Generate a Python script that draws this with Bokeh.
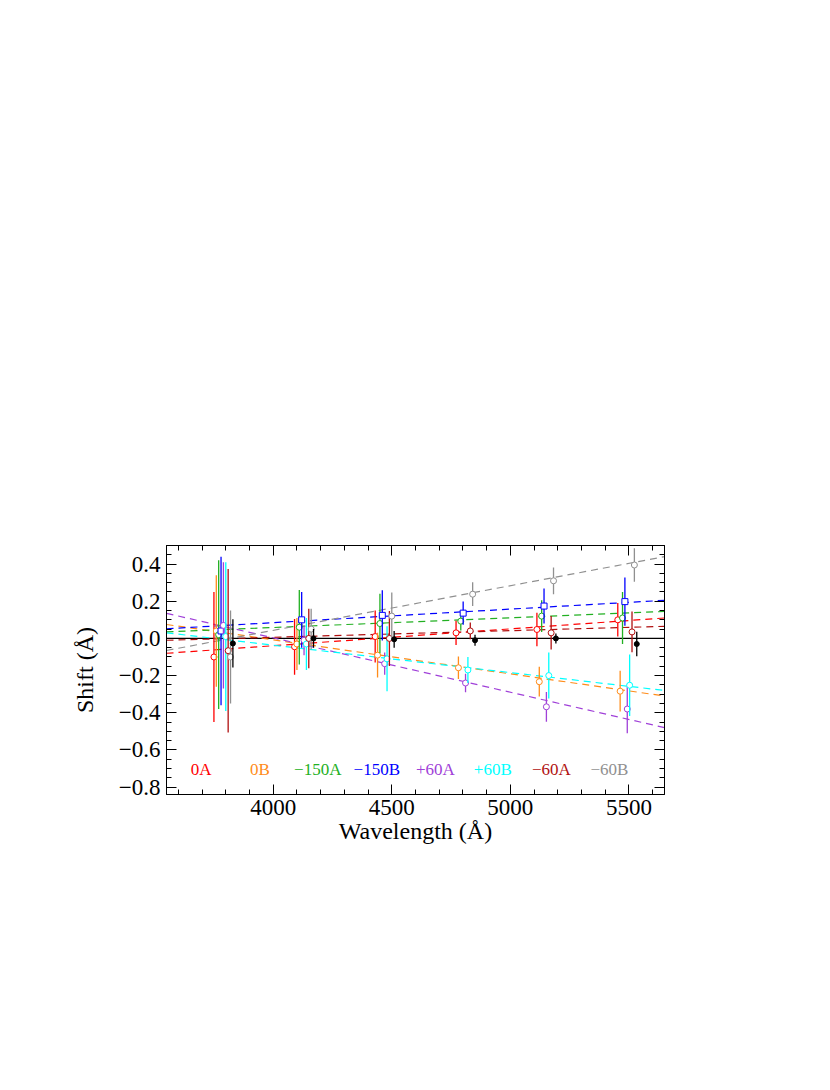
import numpy as np
from bokeh.plotting import figure
from bokeh.models import Range1d, LinearAxis, FixedTicker, ColumnDataSource
from bokeh.core.properties import value
from bokeh.embed import file_html
from bokeh.resources import INLINE

# ---------------- data ----------------
series_names = ["0A", "0B", "\u2212150A", "\u2212150B", "+60A", "+60B", "\u221260A", "\u221260B"]
series_colors = ["#FF0000", "#FF8C1A", "#22B022", "#0000FF", "#A040D8", "#00FFFF", "#B01010", "#909090"]

# wavelength of each group (first series); the other series are offset by 10 A each
group_wavelength = [3750, 4090, 4430, 4771, 5112, 5453]
series_step = 10.0

shift_0A = [-0.10, -0.045, 0.01, 0.03, 0.048, 0.10]
err_0A = [0.35, 0.15, 0.14, 0.065, 0.09, 0.09]
shift_0B = [0.04, -0.03, -0.09, -0.158, -0.233, -0.284]
err_0B = [0.30, 0.14, 0.12, 0.06, 0.08, 0.11]
shift_m150A = [0.02, 0.06, 0.08, 0.093, 0.12, 0.11]
err_m150A = [0.40, 0.20, 0.16, 0.05, 0.085, 0.14]
shift_m150B = [0.04, 0.10, 0.124, 0.136, 0.174, 0.198]
err_m150B = [0.40, 0.15, 0.135, 0.062, 0.094, 0.13]
shift_p60A = [0.07, -0.01, -0.136, -0.24, -0.368, -0.38]
err_p60A = [0.34, 0.08, 0.06, 0.05, 0.08, 0.13]
shift_p60B = [0.01, -0.03, -0.11, -0.17, -0.20, -0.252]
err_p60B = [0.40, 0.14, 0.175, 0.07, 0.124, 0.166]
shift_m60A = [-0.066, 0.0, 0.0, 0.04, 0.03, 0.035]
err_m60A = [0.44, 0.16, 0.148, 0.045, 0.09, 0.11]
shift_m60B = [-0.10, 0.05, 0.12, 0.238, 0.31, 0.395]
err_m60B = [0.25, 0.11, 0.127, 0.064, 0.072, 0.09]
shift_ref = [-0.027, 0.0, -0.005, -0.01, 0.0, -0.03]
err_ref = [0.13, 0.05, 0.045, 0.03, 0.027, 0.066]

# linear fits: value at the left (3550 A) and right (5650 A) ends
fit_x = [3550, 5650]
fit_0A = [-0.08, 0.11]
fit_0B = [0.075, -0.31]
fit_m150A = [0.035, 0.145]
fit_m150B = [0.052, 0.205]
fit_p60A = [0.135, -0.48]
fit_p60B = [0.03, -0.28]
fit_m60A = [-0.01, 0.065]
fit_m60B = [-0.065, 0.44]

all_shift = [shift_0A, shift_0B, shift_m150A, shift_m150B, shift_p60A, shift_p60B, shift_m60A, shift_m60B]
all_err = [err_0A, err_0B, err_m150A, err_m150B, err_p60A, err_p60B, err_m60A, err_m60B]
all_fit = [fit_0A, fit_0B, fit_m150A, fit_m150B, fit_p60A, fit_p60B, fit_m60A, fit_m60B]

x_major = [4000, 4500, 5000, 5500]
x_labels = ["4000", "4500", "5000", "5500"]
y_major = [-0.8, -0.6, -0.4, -0.2, 0.0, 0.2, 0.4]
y_labels = ["\u22120.8", "\u22120.6", "\u22120.4", "\u22120.2", "0.0", "0.2", "0.4"]

# label layout (positions only)
label_x = [3652, 3902, 4088, 4339, 4602, 4846, 5091, 5338]
label_y = -0.706

FONT = "Liberation Serif"

p = figure(x_range=Range1d(3550, 5650), y_range=Range1d(-0.84, 0.5),
           frame_width=498, frame_height=249,
           min_border_left=166, min_border_top=545, min_border_right=140, min_border_bottom=260,
           output_backend="svg", toolbar_location=None)
p.background_fill_color = "white"
p.border_fill_color = "white"
p.outline_line_color = "black"
p.outline_line_width = 1
p.xgrid.grid_line_color = None
p.ygrid.grid_line_color = None

# zero line
p.line(fit_x, [0, 0], line_color="black", line_width=1.3)

# fits
for fit, col in zip(all_fit, series_colors):
    p.line(fit_x, fit, line_color=col, line_width=1.2, line_dash="7 5")

# error bars and points
gw = np.array(group_wavelength, dtype=float)
for i, (sh, er, col) in enumerate(zip(all_shift, all_err, series_colors)):
    x = gw + series_step * i
    sh = np.array(sh); er = np.array(er)
    src = ColumnDataSource(dict(x=x, y=sh, lo=sh - er, hi=sh + er))
    p.segment(x0="x", y0="lo", x1="x", y1="hi", source=src, line_color=col, line_width=1.3)
    marker = "square" if i == 3 else "circle"
    p.scatter(x="x", y="y", source=src, marker=marker, size=6, fill_color="white",
              line_color=col, line_width=1.0)

x = gw + series_step * 8
sh = np.array(shift_ref); er = np.array(err_ref)
src = ColumnDataSource(dict(x=x, y=sh, lo=sh - er, hi=sh + er))
p.segment(x0="x", y0="lo", x1="x", y1="hi", source=src, line_color="black", line_width=1.3)
p.scatter(x="x", y="y", source=src, marker="circle", size=5, fill_color="black", line_color="black")

# labels
p.text(x=label_x, y=[label_y] * len(label_x), text=series_names, text_color=series_colors,
       text_font=value(FONT), text_font_size="17px", text_baseline="middle", text_align="left")

x_minor = list(np.arange(3600, 5650, 100))
y_minor = list(np.round(np.arange(-0.80, 0.501, 0.05), 2))


def style_axis(ax, ticks, minor, labels, show):
    ax.ticker = FixedTicker(ticks=ticks, minor_ticks=minor)
    if show:
        ax.major_label_overrides = {t: l for t, l in zip(ticks, labels)}
    else:
        ax.major_label_overrides = {t: "" for t in ticks}
    ax.major_tick_in = 10
    ax.major_tick_out = 0
    ax.minor_tick_in = 5
    ax.minor_tick_out = 0
    ax.axis_line_color = "black"
    ax.major_tick_line_color = "black"
    ax.minor_tick_line_color = "black"
    ax.major_label_text_font = FONT
    ax.major_label_text_color = "black"
    ax.axis_label_text_font = FONT
    ax.axis_label_text_font_style = "normal"
    ax.axis_label_text_color = "black"
    ax.major_label_text_font_size = "23px"
    ax.axis_label_text_font_size = "24px"


style_axis(p.xaxis[0], x_major, x_minor, x_labels, True)
p.xaxis[0].axis_label = "Wavelength (\u00c5)"
p.xaxis[0].major_label_standoff = 5
p.xaxis[0].axis_label_standoff = 0

style_axis(p.yaxis[0], y_major, y_minor, y_labels, True)
p.yaxis[0].axis_label = "Shift (\u00c5)"
p.yaxis[0].major_label_standoff = 6
p.yaxis[0].axis_label_standoff = 18

top = LinearAxis()
style_axis(top, x_major, x_minor, x_labels, False)
p.add_layout(top, "above")
right = LinearAxis()
style_axis(right, y_major, y_minor, y_labels, False)
p.add_layout(right, "right")

open("out.html", "w").write(file_html(p, INLINE))
